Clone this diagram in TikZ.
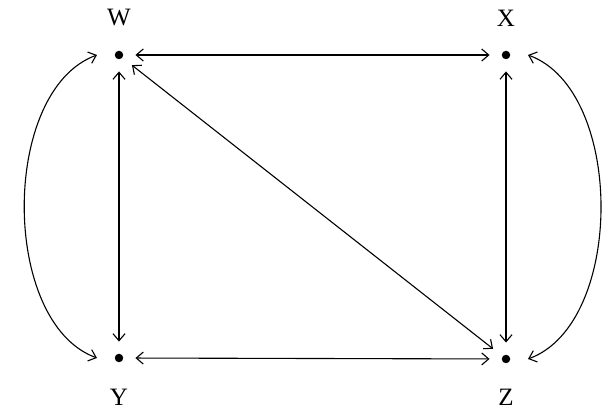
\documentclass[tikz,border=0pt]{standalone}
\usepackage{fontspec}
\setmainfont{Liberation Serif}
\usetikzlibrary{arrows.meta}
\begin{document}
\begin{tikzpicture}[x=1pt,y=1pt,
  dot/.style={circle,fill=black,inner sep=0pt,minimum size=8.5pt},
  lbl/.style={font=\fontsize{25}{28}\selectfont,inner sep=0pt},
  conn/.style={line width=1.1pt,{Straight Barb[length=7pt,width=12pt]}-{Straight Barb[length=7pt,width=12pt]},shorten <=12pt,shorten >=12pt}]
\useasboundingbox (0,0) rectangle (606,414);
\node[dot] (W) at (119,359) {};
\node[dot] (X) at (506,359) {};
\node[dot] (Y) at (119,56) {};
\node[dot] (Z) at (506,55) {};
\node[lbl] (lW) at (119,396) {W};
\node[lbl] (lX) at (506,396) {X};
\node[lbl] (lY) at (119,17) {Y};
\node[lbl] (lZ) at (506,17) {Z};
\draw[conn] (W) -- (X);
\draw[conn] (Y) -- (Z);
\draw[conn] (W) -- (Y);
\draw[conn] (X) -- (Z);
\draw[conn] (W) -- (Z);
\coordinate (wl) at ([xshift=-22pt]W.center);
\coordinate (yl) at ([xshift=-22pt]Y.center);
\coordinate (xr) at ([xshift=22pt]X.center);
\coordinate (zr) at ([xshift=22pt]Z.center);
\draw[conn,shorten <=0pt,shorten >=0pt] (wl) to[out=200,in=160,looseness=0.87] (yl);
\draw[conn,shorten <=0pt,shorten >=0pt] (xr) to[out=-20,in=20,looseness=0.87] (zr);
\end{tikzpicture}
\end{document}
